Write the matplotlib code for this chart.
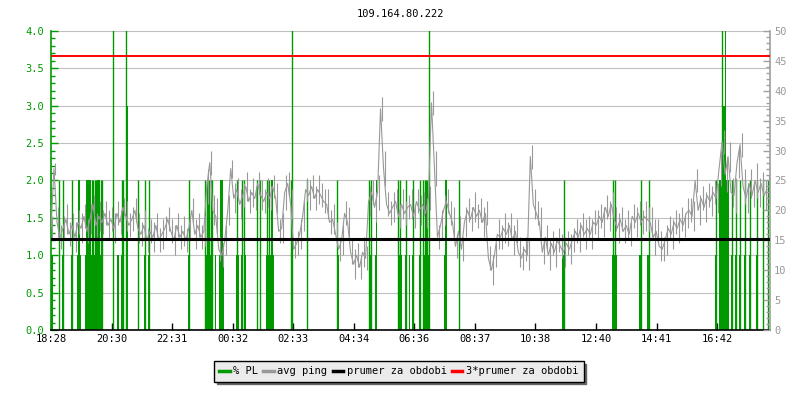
import matplotlib
matplotlib.use('Agg')
import matplotlib.pyplot as plt
from matplotlib.lines import Line2D
import numpy as np

plt.rcParams['font.family'] = ['DejaVu Sans Mono']
plt.rcParams['font.size'] = 7.5

title = '109.164.80.222'

# casove osy (minuty od 18:28)
x_labels = ['18:28', '20:30', '22:31', '00:32', '02:33', '04:34',
            '06:36', '08:37', '10:38', '12:40', '14:41', '16:42']

# avg ping (ms), vzorek kazdych 6 minut
ping = [
    17, 27, 18, 15.5, 17, 18.5, 16, 17.5, 15.5, 18, 17, 19, 16.5, 18.5, 21, 17.5, 19, 18, 19.5, 17.5,
    18.5, 17, 19.5, 18, 20.5, 19, 17.5, 18.5, 20, 17, 16, 17.5, 15, 16.5, 15.5, 17.5, 15, 16, 17, 18.5,
    16.5, 15, 17.5, 15.5, 16.5, 15, 17, 20, 16, 17.5, 15.5, 16.5, 24, 28, 20, 19, 13.5, 12.5, 15, 20,
    27, 22, 23.5, 21, 22.5, 24, 21.5, 23, 22, 24.5, 22.5, 21.5, 23, 22, 24, 22, 16.5, 17, 23, 24.5,
    21, 13.5, 14.5, 16, 19, 23.5, 22.5, 24, 22, 23.5, 22.5, 21.5, 21, 18, 18.5, 16, 13.5, 15, 19.5, 18,
    13, 11, 12.5, 10.5, 13, 12, 21.5, 23, 20.5, 23, 37, 27, 21, 19.5, 20.5, 21.5, 19, 21, 19.5, 20.5,
    21, 19, 21.5, 20, 21, 19.5, 22, 38, 27, 15.5, 17.5, 20, 21.5, 19.5, 18, 14, 16.5, 13.5, 18, 20,
    18.5, 20.5, 19, 20, 18, 19.5, 12, 10, 12.5, 16, 15.5, 17, 16, 17.5, 15, 16.5, 13, 12, 13.5, 12.5,
    29, 21, 19.5, 18, 13, 15.5, 12.5, 14.5, 13, 15, 14, 13, 14.5, 13.5, 15, 16.5, 15.5, 17.5, 16, 17,
    16, 18, 17.5, 19, 18, 20.5, 19, 21, 18.5, 17, 18.5, 16.5, 17.5, 16, 19, 18, 19.5, 18, 19, 18.5,
    18, 15.5, 16.5, 14, 13.5, 15, 17, 16, 18, 17, 18.5, 17.5, 19.5, 20, 19, 25, 20, 22, 20.5, 22.5,
    21.5, 23, 22, 27, 31.5, 26, 29, 23, 22.5, 28, 31, 24, 22, 24.5, 22.5, 25, 23, 24.5, 22.5, 23.5,
]
# rozptyl pingu v ramci vzorku (+- ms)
ping_rng = [
    2, 1, 2.5, 2, 2, 2.5, 2, 2, 2.5, 2, 2.5, 2, 2, 2.5, 1.5, 2, 2.5, 2, 2, 2.5,
    2, 2.5, 2, 2, 1.5, 2.5, 2, 2, 2, 2.5, 2, 2.5, 2, 2, 2.5, 2, 2, 2.5, 2, 2,
    2, 2.5, 2, 2, 2.5, 2, 2, 2, 2.5, 2, 2, 2.5, 3, 2, 2.5, 3, 2, 2, 2.5, 2.5,
    1.5, 2.5, 2, 2.5, 2, 2.5, 2, 2.5, 2, 2, 2.5, 2, 2.5, 2, 2, 2.5, 2, 2.5, 3, 2,
    2.5, 1.5, 2, 2.5, 2.5, 2, 2.5, 2, 2, 2.5, 2, 2, 2.5, 2, 2.5, 2, 2, 2.5, 2, 2.5,
    2, 2.5, 2, 2, 2.5, 2, 2.5, 2, 2.5, 3, 2, 3, 2, 2, 2.5, 2, 2, 2.5, 2, 2,
    2.5, 2, 2, 2.5, 2, 2.5, 2, 2, 3, 2, 2.5, 2.5, 2, 2, 2.5, 2, 2.5, 2, 2.5, 2,
    2, 2.5, 2, 2, 2.5, 2, 2, 2.5, 2, 2.5, 2, 2.5, 2, 2, 2.5, 2, 2.5, 2, 2, 2.5,
    2, 2.5, 2, 2.5, 2, 2, 2.5, 2, 2.5, 2, 2, 2.5, 2, 2.5, 2, 2, 2.5, 2, 2.5, 2,
    2.5, 2, 2.5, 2, 2.5, 2, 2.5, 2, 2, 2.5, 2, 2, 2.5, 2, 2, 2.5, 2, 2, 2.5, 2,
    2.5, 3, 2, 2.5, 2, 2.5, 2, 2.5, 2, 2.5, 2, 2, 2.5, 2, 2.5, 2, 2.5, 2, 2.5, 2,
    2.5, 2, 2.5, 3, 2, 3, 2.5, 2.5, 3, 2.5, 2, 3, 2.5, 2.5, 2, 3, 2.5, 2, 2.5, 2.5,
]
ping_step = 6

prumer = 15.25

# % PL - useky se ztratou (od, do) v minutach
pl_1 = [(0, 4), (22, 26), (40, 44), (52, 60), (69, 103), (133, 137), (141, 146), (174, 177),
        (187, 190), (194, 197), (275, 278), (308, 323), (328, 331), (336, 346), (371, 377),
        (380, 383), (386, 390), (413, 415), (418, 421), (431, 446), (480, 484), (512, 515),
        (572, 576), (636, 641), (648, 653), (694, 702), (709, 713), (716, 718), (724, 727),
        (738, 742), (745, 751), (753, 757), (788, 793), (817, 820), (1024, 1027), (1124, 1133),
        (1178, 1181), (1194, 1198), (1330, 1333), (1337, 1357), (1361, 1364), (1370, 1373),
        (1378, 1381), (1388, 1391), (1398, 1401), (1411, 1414), (1425, 1428), (1435, 1438)]
pl_2 = [(54, 58), (71, 80), (93, 98), (338, 345), (440, 445), (650, 653), (790, 793), (1337, 1357)]
pl_3 = [(152, 154), (1345, 1349)]
pl_5 = [(1349, 1352)]
# jednotlive spicky
spike_2 = [16, 25, 42, 83, 85, 89, 91, 101, 103, 142, 145, 175, 188, 196, 277, 309, 312, 315,
           317, 321, 323, 373, 382, 386, 413, 419, 433, 436, 480, 513, 573, 637, 641, 695, 699,
           711, 725, 740, 745, 749, 751, 753, 818, 1027, 1126, 1130, 1181, 1197, 1331, 1363,
           1371, 1379, 1389, 1399, 1413, 1426, 1436]
spike_5 = [125, 151, 483, 757, 1343]

green = '#009900'
gray = '#999999'
axis_gray = '#a0a0a0'

fig = plt.figure(figsize=(8, 4), dpi=100)
ax = fig.add_axes([51 / 800, 1 - 330 / 400, 719 / 800, 299 / 400])
ax2 = ax.twinx()

# grid
ax.set_ylim(0, 4)
ax.set_yticks(np.arange(0, 4.01, 0.5))
ax.set_yticks(np.arange(0, 4.01, 0.1), minor=True)
ax.grid(True, axis='y', color='#c0c0c0', lw=0.8, zorder=0)
ax.set_axisbelow(True)

# packet loss
for level, segs in [(1, pl_1), (2, pl_2), (3, pl_3), (5, pl_5)]:
    st = [s for s, e in segs]
    w = [e - s for s, e in segs]
    ax.bar(st, [level] * len(segs), width=w, align='edge', color=green, lw=0, zorder=2)
ax.vlines(spike_2, 0, 2, colors=green, lw=1, zorder=2)
ax.vlines(spike_5, 0, 5, colors=green, lw=1, zorder=2)

# ping
t = np.arange(len(ping)) * ping_step
p = np.array(ping)
r = np.array(ping_rng)
ax2.vlines(t + ping_step / 2, p - r, p + r, colors=gray, lw=0.8, zorder=3)
ax2.plot(t, ping, color=gray, lw=0.8, zorder=3)
ax2.axhline(prumer, color='black', lw=2.2, zorder=4)
ax2.axhline(3 * prumer, color='red', lw=1.4, zorder=4)
ax2.set_ylim(0, 50)
ax2.set_yticks(range(0, 51, 5))
ax2.set_yticks(range(0, 51, 1), minor=True)

# x osa
def to_min(lbl):
    h, m = map(int, lbl.split(':'))
    return (h * 60 + m - (18 * 60 + 28)) % 1440

ax.set_xlim(0, 1440)
ax.set_xticks([to_min(l) for l in x_labels])
ax.set_xticklabels(x_labels)

ax.yaxis.set_major_formatter(matplotlib.ticker.FormatStrFormatter('%.1f'))
ax.tick_params(axis='y', which='both', direction='in', colors=green, labelcolor=green, width=1)
ax.tick_params(axis='y', which='major', length=5, pad=5)
ax.tick_params(axis='y', which='minor', length=3)
ax.tick_params(axis='x', direction='in', length=5, width=1, pad=3)
ax2.tick_params(axis='y', which='both', direction='in', colors=axis_gray, labelcolor=gray, width=1)
ax2.tick_params(axis='y', which='major', length=5, pad=3)
ax2.tick_params(axis='y', which='minor', length=3)

for a in (ax, ax2):
    a.spines['top'].set_visible(False)
ax.spines['left'].set_color(green)
ax.spines['left'].set_linewidth(1.2)
ax.spines['bottom'].set_color('black')
ax.spines['bottom'].set_linewidth(1.2)
ax.spines['right'].set_visible(False)
ax2.spines['left'].set_visible(False)
ax2.spines['bottom'].set_visible(False)
ax2.spines['right'].set_color(axis_gray)
ax2.spines['right'].set_linewidth(1.2)

fig.text(0.5, 1 - 14 / 400, title, ha='center', va='center', fontsize=7.5)

handles = [Line2D([], [], color=green, lw=2.5),
           Line2D([], [], color=gray, lw=2.5),
           Line2D([], [], color='black', lw=2.5),
           Line2D([], [], color='red', lw=2.5)]
labels = ['% PL', 'avg ping', 'prumer za obdobi', '3*prumer za obdobi']
leg = fig.legend(handles, labels, loc='center', bbox_to_anchor=(0.4985, 1 - 371.5 / 400), ncol=4,
                 frameon=True, fancybox=False, shadow={'color': '#666666', 'alpha': 1},
                 facecolor='#ebebeb', edgecolor='black', framealpha=1,
                 handlelength=1.0, handletextpad=0.35, columnspacing=0.5,
                 borderpad=0.5, fontsize=7.5)
leg.get_frame().set_linewidth(1.0)

fig.savefig('out.png', dpi=100)
